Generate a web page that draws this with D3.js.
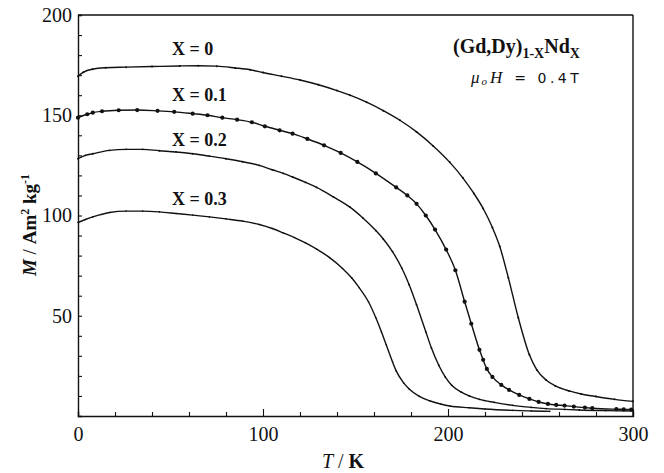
<html>

<head>
    <meta charset="utf-8">
    <title>M-T</title>
    <script src="https://cdn.jsdelivr.net/npm/d3@7/dist/d3.min.js" charset="utf-8"></script>
    <style>
        body { margin: 0; background: #fff; }
        text { font-family: "Liberation Serif", "DejaVu Serif", serif; fill: #111; }
    </style>
</head>

<body>
    <div id="main-svg"></div>
</body>
<script>

    // 数据：温度 T (K) 与磁化强度 M
    var T_x0 = [0, 3, 8, 15, 26, 40, 55, 65, 75, 85, 93, 100, 110, 120, 130, 140, 147, 156, 165, 174, 183, 192, 201, 208, 214, 219, 224, 228, 232.6, 238, 244, 248, 253, 258, 265.5, 272, 280, 290, 300];
    var M_x0 = [169.5, 171.5, 173, 173.7, 174, 174.3, 174.6, 174.7, 174.5, 173.6, 172.7, 171.3, 169.5, 167.6, 165.2, 162.3, 160, 156.5, 152.3, 147.5, 141.7, 134.7, 126.5, 118.8, 111, 103.5, 94, 84.5, 69, 49, 30.5, 23, 18, 15, 12.5, 11, 9.7, 8.3, 7.3];

    var T_x1 = [0, 5, 8, 13, 22, 32, 43, 52, 62, 70, 78, 86, 94, 101, 109, 116, 124, 133, 142, 151, 161, 172, 178, 183, 188, 193, 199, 204, 209, 212.6, 217, 219, 221, 224, 228.8, 233, 238.5, 244, 249, 254, 258.5, 263, 268, 274, 278, 291, 295, 299];
    var M_x1 = [148.8, 150.5, 151.3, 152, 152.5, 152.6, 152.2, 151.7, 150.8, 150, 148.8, 147.8, 146.5, 144.5, 142.5, 140.8, 138.2, 135, 131.2, 126.7, 121, 114, 110, 105.8, 100, 93, 83, 72.7, 57, 46, 33, 28, 23.5, 19.5, 15.5, 13, 10.5, 8.5, 7, 6, 5.5, 5.2, 4.7, 4.2, 3.9, 3.4, 3.3, 3.2];

    var T_x2 = [0, 4, 8, 17, 26, 35, 44, 53, 62, 71, 80, 89, 98, 105, 111, 116, 123, 129, 138, 147, 154, 161, 165, 170, 175, 179, 183, 188, 191, 195, 198.5, 202, 207, 211.5, 217, 225, 235, 245, 253, 263, 271, 285, 300];
    var M_x2 = [128.3, 130, 130.8, 132.5, 133, 133, 132.3, 131.7, 130.8, 129.6, 128.3, 126.8, 125, 122.8, 121, 119.2, 116.5, 114, 109.3, 104.2, 98.8, 92.5, 88.3, 82, 73.8, 65.5, 55.5, 42, 34, 25.3, 19.5, 15.3, 12, 10, 8.3, 6.8, 5.3, 4.3, 3.7, 3.3, 3, 2.7, 2.5];

    var T_x3 = [0, 4, 8, 17, 26, 35, 44, 53, 62, 71, 80, 89, 98, 105, 111, 117, 123, 129, 136, 143, 148, 152, 157, 161, 164, 166.6, 170, 172, 176, 179, 184.5, 190, 196, 201, 211.5, 220, 235, 245, 255];
    var M_x3 = [96.5, 98, 99.3, 101.5, 102.2, 102.2, 101.8, 101, 100.2, 99.3, 98.3, 97.2, 95.5, 93.5, 91.3, 89, 86.3, 83.2, 79, 73.6, 68.8, 64, 57, 49, 42, 35.5, 27, 22.5, 16.5, 13.5, 9.8, 7.6, 6, 5, 4.1, 3.5, 2.8, 2.5, 2.3];

    var seriesNames = ["X = 0", "X = 0.1", "X = 0.2", "X = 0.3"];
    var seriesT = [T_x0, T_x1, T_x2, T_x3];
    var seriesM = [M_x0, M_x1, M_x2, M_x3];
    var dotSize = [1.0, 2.1, 0.9, 0.8];

    var xTicks = [0, 20, 40, 60, 80, 100, 120, 140, 160, 180, 200, 220, 240, 260, 280, 300];
    var xTickLabels = [0, 100, 200, 300];
    var yTicks = [10, 20, 30, 40, 50, 60, 70, 80, 90, 100, 110, 120, 130, 140, 150, 160, 170, 180, 190, 200];
    var yTickLabels = [50, 100, 150, 200];

    var width = 664;
    var height = 473;

    var x = d3.scaleLinear().domain([0, 300]).range([78, 633]);
    var y = d3.scaleLinear().domain([0, 200]).range([416, 15]);

    var svg = d3.select("#main-svg")
        .append("svg")
        .attr("width", width)
        .attr("height", height);

    // 坐标轴
    var xAxis = d3.axisBottom(x)
        .tickValues(xTicks)
        .tickSize(-4)
        .tickPadding(11)
        .tickFormat(function (d) { return xTickLabels.indexOf(d) >= 0 ? d : ""; });

    var gx = svg.append("g")
        .attr("transform", "translate(0," + y(0) + ")")
        .call(xAxis);

    var yAxis = d3.axisLeft(y)
        .tickValues(yTicks)
        .tickSize(-4)
        .tickPadding(6)
        .tickFormat(function (d) { return yTickLabels.indexOf(d) >= 0 ? d : ""; });

    var gy = svg.append("g")
        .attr("transform", "translate(" + x(0) + ",0)")
        .call(yAxis);

    [gx, gy].forEach(function (g) {
        g.select(".domain").attr("stroke", "#111").attr("stroke-width", 1.4);
        g.selectAll(".tick line").attr("stroke", "#111").attr("stroke-width", 1.1);
        g.selectAll(".tick text")
            .attr("font-size", 20)
            .attr("font-family", "Liberation Serif, serif")
            .attr("fill", "#111");
    });
    // 100, 200 处的刻度长一些
    gx.selectAll(".tick line")
        .attr("y2", function (d) { return d % 100 == 0 ? -7 : -4; });

    // 上边框和右边框
    svg.append("line")
        .attr("x1", x(0)).attr("y1", y(200))
        .attr("x2", x(300)).attr("y2", y(200))
        .attr("stroke", "#111").attr("stroke-width", 1.4);
    svg.append("line")
        .attr("x1", x(300)).attr("y1", y(200))
        .attr("x2", x(300)).attr("y2", y(0))
        .attr("stroke", "#111").attr("stroke-width", 1.4);

    // 曲线
    var line = d3.line()
        .x(function (d) { return x(d[0]); })
        .y(function (d) { return y(d[1]); })
        .curve(d3.curveMonotoneX);

    for (var i = 0; i < seriesT.length; i++) {
        var pts = seriesT[i].map(function (t, j) { return [t, seriesM[i][j]]; });

        svg.append("path")
            .datum(pts)
            .attr("d", line)
            .attr("fill", "none")
            .attr("stroke", "#111")
            .attr("stroke-width", 1.4);

        svg.append("g").selectAll("circle")
            .data(pts)
            .enter()
            .append("circle")
            .attr("cx", function (d) { return x(d[0]); })
            .attr("cy", function (d) { return y(d[1]); })
            .attr("r", dotSize[i])
            .attr("fill", "#111");
    }

    // 曲线标签
    var labelY = [55, 101, 146, 205];
    svg.selectAll(".series-label")
        .data(seriesNames)
        .enter()
        .append("text")
        .attr("class", "series-label")
        .attr("x", 172)
        .attr("y", function (d, i) { return labelY[i]; })
        .attr("font-size", 18)
        .attr("font-weight", "bold")
        .text(function (d) { return d; });

    // 标题
    var title = svg.append("text")
        .attr("x", 453)
        .attr("y", 53)
        .attr("font-size", 20)
        .attr("font-weight", "bold");
    title.append("tspan").text("(Gd,Dy)");
    title.append("tspan").attr("dy", 5).attr("font-size", 14).text("1-X");
    title.append("tspan").attr("dy", -5).text("Nd");
    title.append("tspan").attr("dy", 5).attr("font-size", 14).text("X");

    var field = svg.append("text")
        .attr("x", 471)
        .attr("y", 83)
        .attr("font-size", 17);
    field.append("tspan").attr("font-style", "italic").text("μ");
    field.append("tspan").attr("font-style", "italic").attr("font-size", 11).attr("dy", 2).attr("dx", 2).text("o");
    field.append("tspan").attr("font-style", "italic").attr("dy", -2).attr("dx", 3).text("H");
    field.append("tspan").attr("dx", 12).attr("letter-spacing", 3.5).attr("font-family", "DejaVu Sans, sans-serif").attr("font-size", 14).text("= 0.4T");

    // 轴标题
    var xTitle = svg.append("text")
        .attr("x", 343)
        .attr("y", 468)
        .attr("text-anchor", "middle")
        .attr("font-size", 20);
    xTitle.append("tspan").attr("font-style", "italic").text("T");
    xTitle.append("tspan").text(" / ");
    xTitle.append("tspan").attr("font-weight", "bold").text("K");

    var yTitle = svg.append("text")
        .attr("transform", "translate(36,225) rotate(-90)")
        .attr("text-anchor", "middle")
        .attr("font-size", 19)
        .attr("font-weight", "bold");
    yTitle.append("tspan").attr("font-style", "italic").text("M");
    yTitle.append("tspan").attr("font-weight", "normal").text(" / ");
    yTitle.append("tspan").text("Am");
    yTitle.append("tspan").attr("dy", -7).attr("font-size", 12).text("2");
    yTitle.append("tspan").attr("dy", 7).text(" kg");
    yTitle.append("tspan").attr("dy", -7).attr("font-size", 12).text("-1");

</script>

</html>
